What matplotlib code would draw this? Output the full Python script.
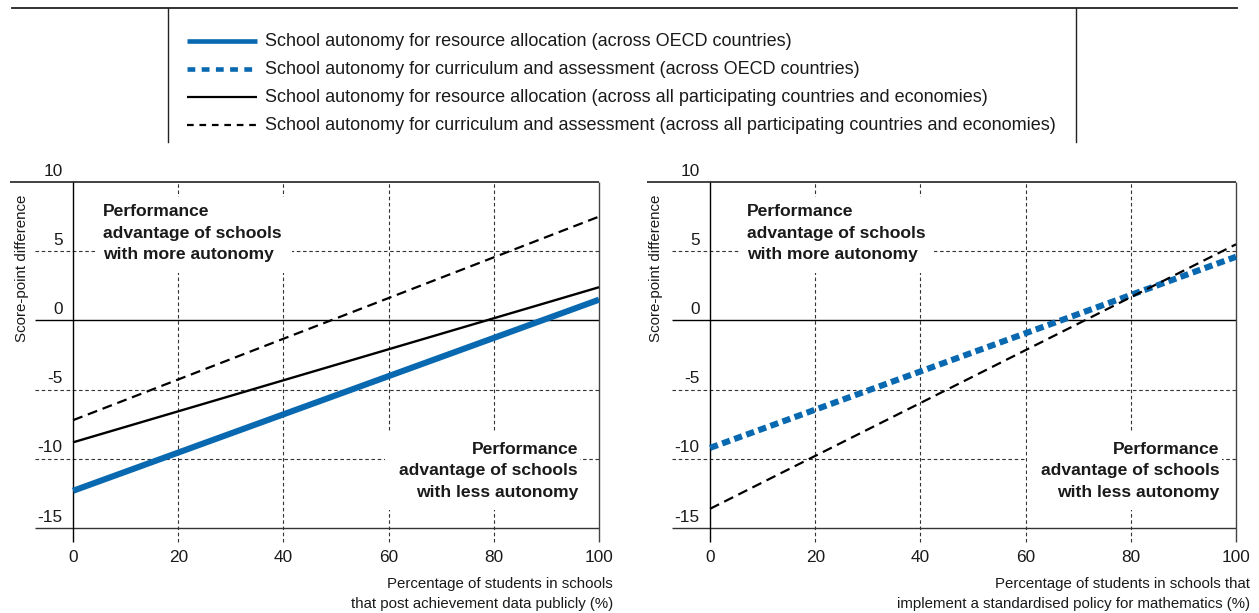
import matplotlib
matplotlib.use("Agg")
import matplotlib.pyplot as plt
from matplotlib.patches import Rectangle
from matplotlib import font_manager

# ---------------- data ----------------
x_pct = [0, 100]
# Left panel: students in schools that post achievement data publicly
left_res_oecd = [-12.3, 1.5]   # resource allocation, OECD
left_res_all = [-8.8, 2.4]     # resource allocation, all countries
left_cur_all = [-7.2, 7.5]     # curriculum & assessment, all countries
# Right panel: schools implementing a standardised policy for mathematics
right_cur_oecd = [-9.2, 4.6]   # curriculum & assessment, OECD
right_cur_all = [-13.6, 5.5]   # curriculum & assessment, all countries

y_ticks = [10, 5, 0, -5, -10, -15]
x_ticks = [0, 20, 40, 60, 80, 100]

legend_labels = [
    "School autonomy for resource allocation (across OECD countries)",
    "School autonomy for curriculum and assessment (across OECD countries)",
    "School autonomy for resource allocation (across all participating countries and economies)",
    "School autonomy for curriculum and assessment (across all participating countries and economies)",
]
left_xlabel = ["Percentage of students in schools", "that post achievement data publicly (%)"]
right_xlabel = ["Percentage of students in schools that", "implement a standardised policy for mathematics (%)"]
ylabel = "Score-point difference"
txt_more = "Performance\nadvantage of schools\nwith more autonomy"
txt_less = "Performance\nadvantage of schools\nwith less autonomy"

# ---------------- style ----------------
BLUE = "#0868B0"
available = {f.name for f in font_manager.fontManager.ttflist}
FONT = "Liberation Sans" if "Liberation Sans" in available else "DejaVu Sans"
plt.rcParams["font.family"] = [FONT, "DejaVu Sans"]

styles = {
    "res_oecd": dict(color=BLUE, lw=4.4, ls="-", solid_capstyle="butt"),
    "cur_oecd": dict(color=BLUE, lw=4.4, ls=(0, (1.35, 0.75)), dash_capstyle="butt"),
    "res_all": dict(color="black", lw=1.7, ls="-", solid_capstyle="butt"),
    "cur_all": dict(color="black", lw=1.6, ls=(0, (4.5, 2.6)), dash_capstyle="butt"),
}

fig = plt.figure(figsize=(12.59, 6.13), dpi=100)
W, H = 1259, 613

# ---------------- legend (pixel-coordinate overlay) ----------------
lax = fig.add_axes([0, 0, 1, 1], zorder=0)
lax.set_xlim(0, W)
lax.set_ylim(H, 0)
lax.axis("off")
lax.plot([12, 1237], [7.5, 7.5], color="#222222", lw=1.3)
lax.plot([168, 168], [7.5, 142], color="#222222", lw=1.0)
lax.plot([1076, 1076], [7.5, 142], color="#222222", lw=1.0)
leg_keys = ["res_oecd", "cur_oecd", "res_all", "cur_all"]
leg_lw = {"res_oecd": 3.3, "cur_oecd": 3.3, "res_all": 1.6, "cur_all": 1.6}
leg_ls = {"res_oecd": "-", "cur_oecd": (0, (1.7, 1.4)), "res_all": "-", "cur_all": (0, (3.0, 2.6))}
for i, (key, lab) in enumerate(zip(leg_keys, legend_labels)):
    yy = 41 + 28 * i
    lax.plot([187, 257], [yy, yy], color=styles[key]["color"], lw=leg_lw[key],
             ls=leg_ls[key], solid_capstyle="butt", dash_capstyle="butt")
    lax.text(265, yy, lab, fontsize=13.0, va="center", ha="left", color="#1a1a1a")

# ---------------- panels ----------------
XMIN, XMAX, YMIN, YMAX = -12, 100, -16, 10
bottom = 1 - 542 / H
height = (542 - 182) / H
panels = [
    dict(left=10 / W, series=[("res_oecd", left_res_oecd), ("res_all", left_res_all), ("cur_all", left_cur_all)],
         xlabel=left_xlabel, ylab_x=-9.7,
         box_more=(4.6, 3.4, 41.6, 8.9), more_x=5.7,
         box_less=(59.4, -13.7, 96.4, -8.1), less_x=96.0),
    dict(left=647 / W, series=[("cur_oecd", right_cur_oecd), ("cur_all", right_cur_all)],
         xlabel=right_xlabel, ylab_x=-10.3,
         box_more=(5.9, 3.4, 42.6, 8.9), more_x=7.0,
         box_less=(60.3, -13.7, 97.3, -8.1), less_x=96.9),
]

for p in panels:
    ax = fig.add_axes([p["left"], bottom, 589 / W, height], zorder=1)
    ax.set_xlim(XMIN, XMAX)
    ax.set_ylim(YMIN, YMAX)
    ax.axis("off")
    ax.patch.set_alpha(0)

    grid_kw = dict(color="#333333", lw=0.8, clip_on=False, zorder=1)
    dash = (0, (3.2, 2.4))
    for yv in y_ticks:
        if yv == 10:
            ax.hlines(yv, -12, 100, color="#333333", lw=1.3, clip_on=False, zorder=1)
        elif yv == 0:
            ax.hlines(yv, -7.3, 100, color="black", lw=1.0, clip_on=False, zorder=1)
        elif yv == -15:
            ax.hlines(yv, -7.3, 100, color="#333333", lw=1.0, clip_on=False, zorder=1)
        else:
            ax.hlines(yv, -7.3, 100, linestyles=dash, **grid_kw)
    for xv in x_ticks:
        if xv == 0:
            ax.vlines(xv, YMIN, 10, color="black", lw=1.0, clip_on=False, zorder=1)
        elif xv == 100:
            ax.vlines(xv, YMIN, 10, color="#444444", lw=1.0, clip_on=False, zorder=1)
        else:
            ax.vlines(xv, YMIN, 10, linestyles=dash, **grid_kw)

    # white boxes behind annotations
    for (x0, y0, x1, y1) in (p["box_more"], p["box_less"]):
        ax.add_patch(Rectangle((x0, y0), x1 - x0, y1 - y0, facecolor="white",
                               edgecolor="none", zorder=2, clip_on=False))
    ax.text(p["more_x"], 6.3, txt_more, ha="left", va="center", fontsize=12.6,
            fontweight="bold", linespacing=1.55, zorder=3, color="#1a1a1a")
    ax.text(p["less_x"], -10.85, txt_less, ha="right", va="center", fontsize=12.6,
            fontweight="bold", linespacing=1.55, zorder=3, color="#1a1a1a",
            multialignment="right")

    for key, vals in p["series"]:
        ax.plot(x_pct, vals, zorder=4, clip_on=False, **styles[key])

    for yv in y_ticks:
        ax.text(-2.0, yv + 0.25, str(yv), ha="right", va="bottom", fontsize=12.4, color="#1a1a1a")
    for xv in x_ticks:
        ax.text(xv, -17.1, str(xv), ha="center", va="center", fontsize=12.4, color="#1a1a1a")

    ax.text(102.7, -19.05, p["xlabel"][0], ha="right", va="center", fontsize=10.8,
            color="#1a1a1a", clip_on=False)
    ax.text(102.7, -20.5, p["xlabel"][1], ha="right", va="center", fontsize=10.8,
            color="#1a1a1a", clip_on=False)
    ax.text(p["ylab_x"], 3.8, ylabel, rotation=90, ha="center", va="center",
            fontsize=10.9, color="#1a1a1a")

fig.savefig("out.png", dpi=100)
